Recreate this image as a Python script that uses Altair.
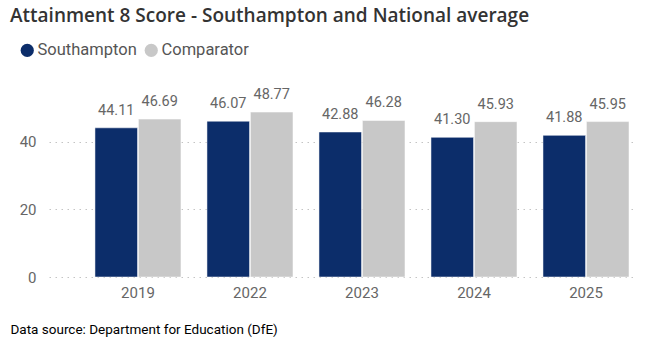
import altair as alt
import pandas as pd

years = ["2019", "2022", "2023", "2024", "2025"]
southampton = [44.11, 46.07, 42.88, 41.30, 41.88]
comparator = [46.69, 48.77, 46.28, 45.93, 45.95]
series = ["Southampton", "Comparator"]
colors = ["#0C2D6A", "#C8C8C8"]

rows = []
for i, y in enumerate(years):
    rows.append({"year": y, "series": series[0], "value": southampton[i]})
    rows.append({"year": y, "series": series[1], "value": comparator[i]})
df = pd.DataFrame(rows)

FONT = "Roboto"

x = alt.X(
    "year:N",
    sort=years,
    scale=alt.Scale(paddingInner=0.232, paddingOuter=0.223, align=0.92),
    axis=alt.Axis(
        title="Data source: Department for Education (DfE)",
        titleFont=FONT, titleFontSize=13.5, titleFontWeight="normal", titleColor="#000000",
        titleAnchor="start", titleAlign="left", titleBaseline="alphabetic",
        titleX=-39, titleY=56, titleAngle=0,
        labelFont=FONT, labelFontSize=15, labelColor="#666666", labelPadding=8,
        labelAngle=0, ticks=False, domain=False, grid=False,
    ),
)
xo = alt.XOffset("series:N", sort=series, scale=alt.Scale(paddingInner=0.02))
y = alt.Y(
    "value:Q",
    scale=alt.Scale(domain=[0, 55], nice=False),
    axis=alt.Axis(
        title=None, values=[0, 20, 40], labelFont=FONT, labelFontSize=15,
        labelColor="#666666", labelPadding=13, ticks=False, domain=False,
        grid=True, gridColor="#C4C4C4", gridDash=[1.5, 4.5], gridWidth=1,
    ),
)
color = alt.Color(
    "series:N", sort=series,
    scale=alt.Scale(domain=series, range=colors),
    legend=alt.Legend(
        title=None, orient="none", legendX=-30, legendY=-49, direction="horizontal",
        symbolType="circle", symbolSize=175, symbolStrokeWidth=0, symbolOpacity=1,
        labelFont=FONT, labelFontSize=16.5, labelColor="#555555",
        labelOffset=2, columnPadding=6,
    ),
)

bars = alt.Chart(df).mark_bar(stroke="white", strokeWidth=0.5).encode(
    x=x, xOffset=xo, y=y, color=color
)
labels = alt.Chart(df).mark_text(
    font=FONT, fontSize=14.5, color="#666666", baseline="alphabetic", dy=-13
).encode(
    x=x, xOffset=xo, y=y, text=alt.Text("value:Q", format=".2f")
)

chart = (
    alt.layer(bars, labels)
    .properties(
        width=584, height=186,
        autosize=alt.AutoSizeParams(type="none"),
        padding={"left": 49, "top": 91, "right": 20, "bottom": 76},
        view=alt.ViewBackground(strokeWidth=0, strokeOpacity=0),
        title=alt.TitleParams(
            "Attainment 8 Score - Southampton and National average",
            font="Open Sans", fontSize=19, fontWeight=600, color="#333333",
            anchor="start", frame="group", dx=-39, offset=1,
            baseline="alphabetic",
        ),
    )
    .configure_view(strokeWidth=0, strokeOpacity=0)
    .configure_axis(domain=False)
    .configure(background="white")
)

chart.save("out.html", embed_options={"renderer": "svg", "actions": False})
